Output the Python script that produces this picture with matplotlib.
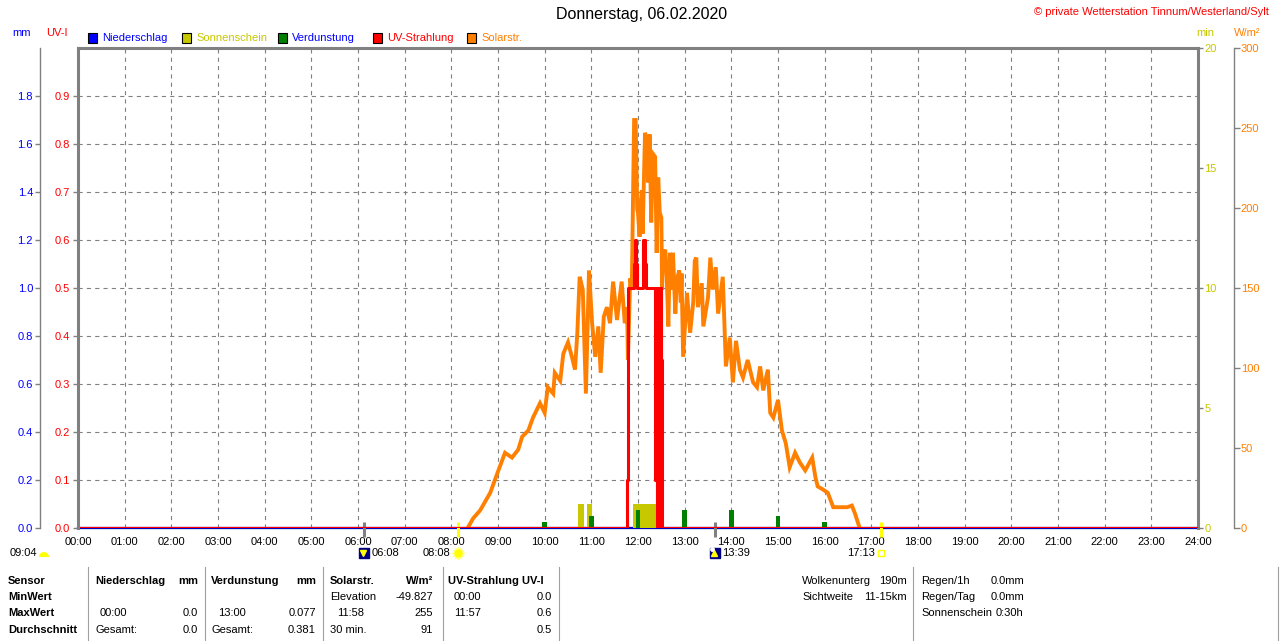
import matplotlib
matplotlib.use('Agg')
import matplotlib.pyplot as plt
import matplotlib.transforms as mtransforms
from matplotlib.patches import Rectangle, Wedge

plt.rcParams['font.family'] = ['Liberation Sans', 'DejaVu Sans']
plt.rcParams['font.size'] = 8
plt.rcParams['lines.scale_dashes'] = False

# ---------------- data ----------------
hours = list(range(25))
hour_labels = ['%02d:00' % h for h in hours]

mm_ticks = [0.0, 0.2, 0.4, 0.6, 0.8, 1.0, 1.2, 1.4, 1.6, 1.8]
uv_ticks = [0.0, 0.1, 0.2, 0.3, 0.4, 0.5, 0.6, 0.7, 0.8, 0.9]
min_ticks = [0, 5, 10, 15, 20]
wm_ticks = [0, 50, 100, 150, 200, 250, 300]

# Solarstrahlung W/m2
solar_times = ["08:21", "08:28", "08:37", "08:50", "08:59", "09:09", "09:18", "09:26", "09:31", "09:39",
               "09:45", "09:54", "10:00", "10:04", "10:11", "10:13", "10:20", "10:24", "10:30", "10:35",
               "10:39", "10:42", "10:45", "10:49", "10:53", "10:57", "11:01", "11:05", "11:09", "11:12",
               "11:16", "11:20", "11:24", "11:28", "11:33",
               "11:39", "11:43", "11:46", "11:47", "11:50", "11:52", "11:55", "11:57", "11:59", "12:00",
               "12:02", "12:03", "12:05", "12:06", "12:09", "12:12", "12:13", "12:15", "12:17", "12:18",
               "12:19", "12:22", "12:24", "12:26", "12:28", "12:30", "12:31", "12:32", "12:35", "12:37",
               "12:39", "12:41", "12:43", "12:45", "12:48", "12:50", "12:53", "12:55", "12:56", "12:58",
               "13:03", "13:07", "13:11", "13:13", "13:15", "13:17",
               "13:22", "13:24", "13:30", "13:33", "13:36",
               "13:40", "13:43", "13:49", "13:53", "13:58", "14:02", "14:06", "14:11", "14:15", "14:21",
               "14:28", "14:33", "14:37", "14:41", "14:47", "14:50", "14:54", "15:00", "15:05", "15:10",
               "15:15", "15:22", "15:28", "15:35", "15:44", "15:48", "15:51", "15:58", "16:04", "16:11",
               "16:20", "16:29", "16:35", "16:39", "16:45"]
solar_vals = [0, 6, 11, 22, 34, 47, 44, 49, 57, 61,
              69, 78, 72, 88, 84, 97, 92, 109, 116, 107,
              99, 122, 157, 149, 84, 161, 128, 107, 126, 97,
              132, 138, 128, 154, 130,
              154, 128, 138, 105, 156, 150, 255, 255, 199, 197,
              182, 201, 211, 184, 247, 242, 216, 246, 191, 211,
              234, 232, 172, 219, 197, 194, 149, 169, 174, 156,
              126, 172, 149, 172, 134, 155, 161, 141, 159, 107,
              147, 122, 141, 167, 169, 138,
              153, 126, 144, 169, 149,
              163, 134, 157, 101, 119, 91, 117, 99, 94, 105,
              91, 88, 101, 86, 99, 72, 69, 80, 61, 53,
              38, 47, 41, 36, 44, 32, 26, 24, 22, 13,
              13, 13, 14, 9, 0]

# UV-Strahlung UV-I (step values)
uv_times = ["00:00", "11:46", "11:47", "11:55", "11:56", "11:58", "11:59", "12:06", "12:07", "12:09",
            "12:10", "12:22", "12:23", "12:24", "12:25", "12:26", "12:27", "12:28", "12:29", "12:30",
            "12:31", "24:00"]
uv_vals = [0.0, 0.1, 0.5, 0.55, 0.6, 0.55, 0.5, 0.55, 0.6, 0.55,
           0.5, 0.1, 0.5, 0.0, 0.5, 0.1, 0.5, 0.0, 0.5, 0.35,
           0.0, 0.0]

# Sonnenschein (min)
sun_start = ["10:43", "10:54", "11:54"]
sun_end = ["10:51", "11:01", "12:30"]
sun_vals = [1.0, 1.0, 1.0]

# Verdunstung (mm)
evap_times = ["10:00", "11:00", "12:00", "13:00", "14:00", "15:00", "16:00"]
evap_vals = [0.025, 0.05, 0.077, 0.077, 0.077, 0.05, 0.025]

# Niederschlag (mm)
rain_times = ["00:00", "24:00"]
rain_vals = [0.0, 0.0]

# Astro events
event_times = ["06:08", "08:08", "13:39", "17:13"]

BLUE = '#0000FF'
RED = '#FF0000'
OLIVE = '#C8C800'
GREEN = '#008000'
ORANGE = '#FF8000'
GRAY = '#808080'


def to_h(s):
    h, m = s.split(':')
    return int(h) + int(m) / 60.0


fig = plt.figure(figsize=(12.8, 6.41), dpi=100)
rect = [78 / 1280, (641 - 528) / 641, 1120 / 1280, 480 / 641]

# mm axis (outer left) + grid
ax_mm = fig.add_axes(rect)
ax_mm.set_xlim(0, 24)
ax_mm.set_ylim(0, 2)
ax_mm.set_xticks(hours)
ax_mm.set_xticklabels(hour_labels)
ax_mm.set_yticks(mm_ticks)
ax_mm.set_yticklabels(['%.1f' % v for v in mm_ticks])
ax_mm.grid(True, color=GRAY, lw=0.8, linestyle=(0, (3, 3)))
ax_mm.set_axisbelow(True)
for s in ['top', 'right']:
    ax_mm.spines[s].set_visible(False)
ax_mm.spines['left'].set_position(('outward', 27.4))
ax_mm.spines['left'].set_color(GRAY)
ax_mm.spines['left'].set_linewidth(1.0)
ax_mm.spines['bottom'].set_color(GRAY)
ax_mm.spines['bottom'].set_linewidth(1.5)
ax_mm.tick_params(axis='y', color=GRAY, labelcolor=BLUE, length=3.5, width=1, pad=1.5, labelsize=8)
ax_mm.tick_params(axis='x', length=0, pad=6.5, labelsize=8)
ax_mm.plot([to_h(t) for t in rain_times], rain_vals, color='#0000C0', lw=1.6, clip_on=False, zorder=5)

# Sonnenschein axis (min), right edge
ax_min = ax_mm.twinx()
ax_min.set_ylim(0, 20)
ax_min.set_yticks(min_ticks)
for s in ['left', 'bottom']:
    ax_min.spines[s].set_visible(False)
for s in ['right', 'top']:
    ax_min.spines[s].set_color(GRAY)
    ax_min.spines[s].set_linewidth(2.2)
ax_min.tick_params(axis='y', color=GRAY, labelcolor=OLIVE, length=3.5, width=1, pad=1, labelsize=8)
ax_min.bar([to_h(t) for t in sun_start], sun_vals,
           width=[to_h(e) - to_h(s) for s, e in zip(sun_start, sun_end)],
           align='edge', color=OLIVE, linewidth=0)

# Solar axis (W/m2), outer right
ax_w = ax_mm.twinx()
ax_w.set_ylim(0, 300)
ax_w.set_yticks(wm_ticks)
for s in ['left', 'bottom', 'top']:
    ax_w.spines[s].set_visible(False)
ax_w.spines['right'].set_position(('outward', 25.9))
ax_w.spines['right'].set_color(GRAY)
ax_w.spines['right'].set_linewidth(1.0)
ax_w.tick_params(axis='y', color=GRAY, labelcolor=ORANGE, length=4, width=1, pad=1, labelsize=8)
ax_w.plot([to_h(t) for t in solar_times], solar_vals, color=ORANGE, lw=2.8, solid_joinstyle='miter')

# Verdunstung (mm scale)
ax_ev = ax_mm.twinx()
ax_ev.set_ylim(0, 2)
ax_ev.axis('off')
ax_ev.bar([to_h(t) for t in evap_times], evap_vals, width=0.1, color=GREEN, linewidth=0)

# UV axis (inner left)
ax_uv = ax_mm.twinx()
ax_uv.set_ylim(0, 1)
ax_uv.yaxis.tick_left()
ax_uv.set_yticks(uv_ticks)
ax_uv.set_yticklabels(['%.1f' % v for v in uv_ticks])
for s in ['right', 'bottom', 'top']:
    ax_uv.spines[s].set_visible(False)
ax_uv.spines['left'].set_color(GRAY)
ax_uv.spines['left'].set_linewidth(2.2)
ax_uv.tick_params(axis='y', color=GRAY, labelcolor=RED, length=3.5, width=1, pad=2, labelsize=8)
ax_uv.plot([to_h(t) for t in uv_times], uv_vals, color=RED, lw=2.2, drawstyle='steps-post')

# astro events below the time axis
evt = mtransforms.blended_transform_factory(ax_mm.transData, ax_mm.transAxes)
ev_colors = [GRAY, '#FFFF00', GRAY, '#FFFF00']
for t, c in zip(event_times, ev_colors):
    ax_mm.plot([to_h(t), to_h(t)], [-0.019, 0.012], color=c, lw=2.2, transform=evt,
               clip_on=False, solid_capstyle='butt', zorder=6)
yi = -25 / 480
# 06:08 and 13:39 : dark squares with arrow, time to the right
for t, mk in [(event_times[0], 'v'), (event_times[2], '^')]:
    ax_mm.plot(to_h(t), yi, marker='s', ms=7.5, color='#000080', transform=evt, clip_on=False)
    ax_mm.plot(to_h(t) - 0.03, yi, marker=mk, ms=4, color='#FFFF00', transform=evt, clip_on=False)
    ax_mm.annotate(t, xy=(to_h(t), yi), xycoords=evt, xytext=(5, 0), textcoords='offset points',
                   ha='left', va='center', fontsize=8)
ax_mm.plot(to_h(event_times[2]) - 0.06, yi + 0.008, marker='o', ms=2.5, color='white',
           transform=evt, clip_on=False)
# 08:08 sunrise, 17:13 sunset: time to the left
ax_mm.plot(to_h(event_times[1]), yi, marker=(12, 2, 0), ms=9, color='#FFFF80', mew=1,
           transform=evt, clip_on=False)
ax_mm.plot(to_h(event_times[1]), yi, marker='o', ms=5, color='#FFFF00', mec='#FFFF00',
           transform=evt, clip_on=False)
ax_mm.plot(to_h(event_times[3]), yi, marker='s', ms=4, mfc='none', mec='#FFFF00', mew=1,
           transform=evt, clip_on=False)
for t in [event_times[1], event_times[3]]:
    ax_mm.annotate(t, xy=(to_h(t), yi), xycoords=evt, xytext=(-5, 0), textcoords='offset points',
                   ha='right', va='center', fontsize=8)

# ---------------- overlay: header, legend, table ----------------
ov = fig.add_axes([0, 0, 1, 1])
ov.set_xlim(0, 1280)
ov.set_ylim(641, 0)
ov.axis('off')

ov.text(642, 15, 'Donnerstag, 06.02.2020', ha='center', va='center', fontsize=11.5)
ov.text(1269, 12, '\u00a9 private Wetterstation Tinnum/Westerland/Sylt', ha='right', va='center',
        fontsize=8, color=RED)

ov.text(22, 33, 'mm', ha='center', va='center', color=BLUE, fontsize=8)
ov.text(57, 33, 'UV-I', ha='center', va='center', color=RED, fontsize=8)
ov.text(1205, 33, 'min', ha='center', va='center', color=OLIVE, fontsize=8)
ov.text(1247, 33, 'W/m\u00b2', ha='center', va='center', color=ORANGE, fontsize=8)

legend_items = [('Niederschlag', BLUE, BLUE, 88), ('Sonnenschein', OLIVE, OLIVE, 182),
                ('Verdunstung', GREEN, BLUE, 278), ('UV-Strahlung', RED, RED, 373),
                ('Solarstr.', ORANGE, ORANGE, 467)]
for name, fc, tc, x0 in legend_items:
    ov.add_patch(Rectangle((x0, 33), 9, 10, facecolor=fc, edgecolor='black', lw=0.8))
    ov.text(x0 + 14, 38, name, ha='left', va='center', color=tc, fontsize=8)

# half sun / moon at the left
ov.text(10, 553, '09:04', ha='left', va='center', fontsize=8)
ov.add_patch(Wedge((44, 557), 5, 180, 360, facecolor='#FFFF00', edgecolor='none'))

# table separators
for x in [88, 205, 323, 443, 559, 913, 1278]:
    ov.plot([x, x], [567, 641], color='#A0A0A0', lw=0.8)

rows = [581, 597, 613, 630]
for y, lab in zip(rows, ['Sensor', 'MinWert', 'MaxWert', 'Durchschnitt']):
    ov.text(8, y, lab, ha='left', va='center', fontweight='bold', fontsize=8)

cells_left = [
    (95, 581, 'Niederschlag', True), (100, 613, '00:00', False), (95, 630, 'Gesamt:', False),
    (211, 581, 'Verdunstung', True), (218, 613, '13:00', False), (211, 630, 'Gesamt:', False),
    (330, 581, 'Solarstr.', True), (330, 597, 'Elevation', False), (337, 613, '11:58', False),
    (330, 630, '30 min.', False),
    (448, 581, 'UV-Strahlung UV-I', True), (454, 597, '00:00', False), (454, 613, '11:57', False),
    (802, 581, 'Wolkenunterg', False), (802, 597, 'Sichtweite', False),
    (921, 581, 'Regen/1h', False), (921, 597, 'Regen/Tag', False), (921, 613, 'Sonnenschein', False),
    (991, 581, '0.0mm', False), (991, 597, '0.0mm', False), (996, 613, '0:30h', False),
]
for x, y, s, b in cells_left:
    ov.text(x, y, s, ha='left', va='center', fontsize=8, fontweight='bold' if b else 'normal')

cells_right = [
    (198, 581, 'mm', True), (198, 613, '0.0', False), (198, 630, '0.0', False),
    (316, 581, 'mm', True), (316, 613, '0.077', False), (316, 630, '0.381', False),
    (433, 581, 'W/m\u00b2', True), (433, 597, '-49.827', False), (433, 613, '255', False),
    (433, 630, '91', False),
    (552, 597, '0.0', False), (552, 613, '0.6', False), (552, 630, '0.5', False),
    (907, 581, '190m', False), (907, 597, '11-15km', False),
]
for x, y, s, b in cells_right:
    ov.text(x, y, s, ha='right', va='center', fontsize=8, fontweight='bold' if b else 'normal')

fig.savefig('out.png', dpi=100)
